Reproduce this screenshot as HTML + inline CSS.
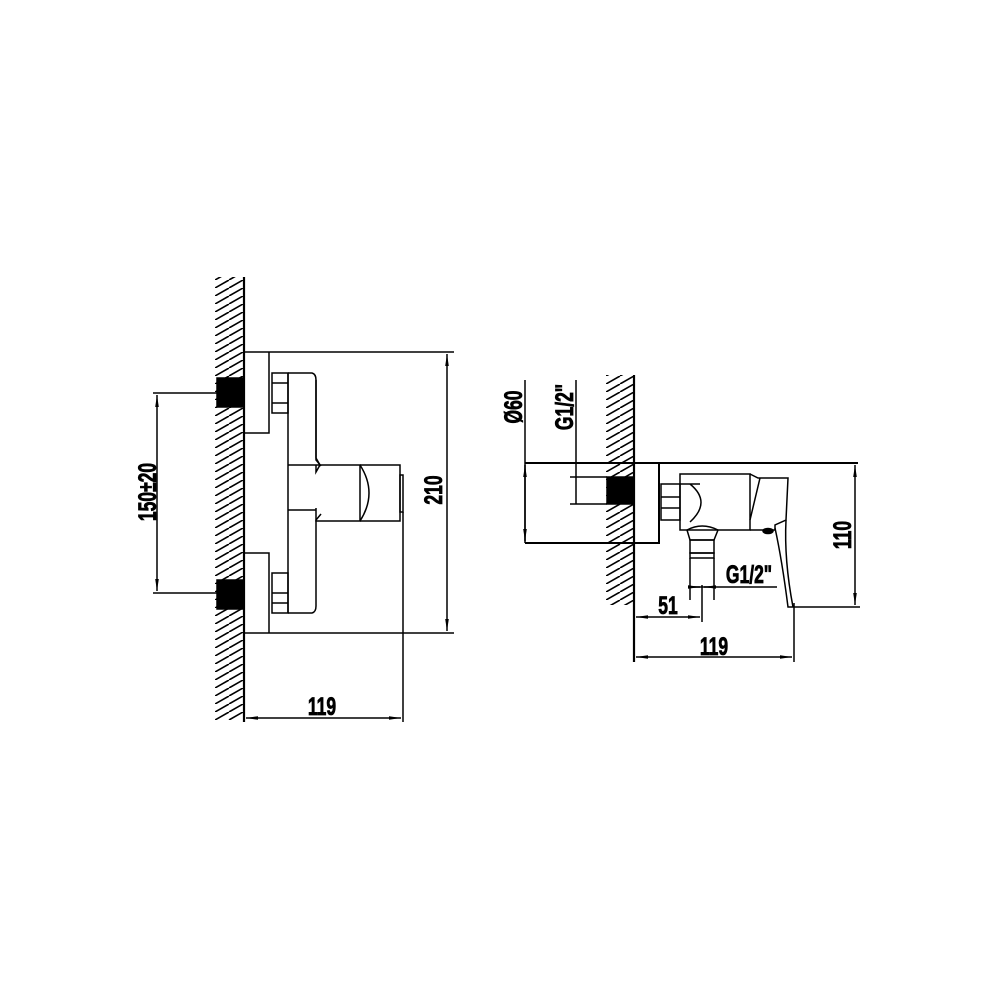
<!DOCTYPE html>
<html><head><meta charset="utf-8"><style>
html,body{margin:0;padding:0;background:#fff}
svg{display:block}
text{font-family:"Liberation Sans",sans-serif;font-weight:bold;font-size:25px;fill:#000;stroke:#000;stroke-width:0.8}
</style></head><body>
<svg width="1000" height="1000" viewBox="0 0 1000 1000" xmlns="http://www.w3.org/2000/svg">
<defs>
<pattern id="h1" patternUnits="userSpaceOnUse" x="215" y="0" width="28" height="8">
<path d="M0 8L14 0M14 8L28 0" stroke="#000" stroke-width="1.6"/>
</pattern>
<pattern id="h2" patternUnits="userSpaceOnUse" x="606" y="0" width="28" height="8">
<path d="M0 8L14 0M14 8L28 0" stroke="#000" stroke-width="1.6"/>
</pattern>
<marker id="a" viewBox="0 0 10 10" refX="10" refY="5" markerWidth="8" markerHeight="8" orient="auto-start-reverse"><path d="M0 3.5L10 5L0 6.5z" fill="#000"/></marker>
</defs>
<g fill="none" stroke="#000" stroke-width="1.5">
<rect x="215" y="277" width="28" height="443" fill="url(#h1)" stroke="none"/>
<line x1="244" y1="277" x2="244" y2="722" stroke-width="2.2"/>
<rect x="217" y="378" width="27" height="29" fill="#000"/>
<rect x="217" y="580" width="27" height="29" fill="#000"/>
<line x1="244" y1="352" x2="454" y2="352"/>
<line x1="244" y1="633" x2="454" y2="633"/>
<path d="M244 433H269V352M244 553H269V633"/>
<rect x="272" y="373" width="16" height="40"/>
<path d="M272 383H288M272 403H288M272 593H288M272 603H288"/>
<rect x="272" y="573" width="16" height="40"/>
<path d="M288 373H312Q316 374 316 380V458L320 465L316 472V465"/>
<path d="M288 373V613M288 465H316M316 380V460L321 466M288 510H316"/>
<path d="M288 613H312Q316 612 316 606V520L321 514"/>
<path d="M316 465H360V521H316V508"/>
<path d="M360 465H400V521H360"/>
<path d="M360 465Q378 493 360 521"/>
<rect x="400" y="475" width="3" height="37"/>
<line x1="403" y1="512" x2="403" y2="722"/>
<line x1="447" y1="354" x2="447" y2="631" marker-start="url(#a)" marker-end="url(#a)"/>
<line x1="153" y1="393" x2="217" y2="393"/>
<line x1="153" y1="593" x2="217" y2="593"/>
<line x1="157" y1="395" x2="157" y2="591" marker-start="url(#a)" marker-end="url(#a)"/>
<line x1="246" y1="718" x2="401" y2="718" marker-start="url(#a)" marker-end="url(#a)"/>

<rect x="606" y="375" width="28" height="230" fill="url(#h2)" stroke="none"/>
<line x1="634" y1="375" x2="634" y2="662" stroke-width="2.2"/>
<rect x="607" y="477" width="27" height="27" fill="#000"/>
<line x1="525" y1="463" x2="858" y2="463" stroke-width="2"/>
<path d="M525 543H659V463" stroke-width="2"/>
<line x1="525" y1="380" x2="525" y2="543"/>
<line x1="525" y1="465" x2="525" y2="541" marker-start="url(#a)" marker-end="url(#a)"/>
<line x1="576" y1="380" x2="576" y2="504"/>
<line x1="570" y1="477" x2="607" y2="477"/>
<line x1="570" y1="504" x2="607" y2="504"/>
<rect x="661" y="484" width="19" height="36"/>
<path d="M661 497H680M661 508H680"/>
<rect x="680" y="474" width="70" height="56"/>
<path d="M690 484Q712 502 690 522M680 484H700"/>
<path d="M750 474L758 478H788L786 520L775 525V530L760 530M750 530H760"/>
<path d="M760 478L750 520"/>
<path d="M786 520Q784 560 793 607M775 528Q782 560 788 607H793"/>
<ellipse cx="768" cy="531" rx="5" ry="2.5" fill="#000"/>
<path d="M687 530Q702 522 718 530L714 540H690Z"/>
<rect x="690" y="540" width="24" height="13"/>
<rect x="690" y="553" width="24" height="5"/>
<path d="M690 558V600M714 558V600"/>
<line x1="702" y1="585" x2="702" y2="622"/>
<line x1="688" y1="587" x2="777" y2="587"/>
<line x1="690" y1="587" x2="700" y2="587" marker-end="url(#a)"/>
<line x1="714" y1="587" x2="704" y2="587" marker-end="url(#a)"/>
<line x1="636" y1="617" x2="700" y2="617" marker-start="url(#a)" marker-end="url(#a)"/>
<line x1="794" y1="603" x2="794" y2="662"/>
<line x1="636" y1="657" x2="792" y2="657" marker-start="url(#a)" marker-end="url(#a)"/>
<line x1="793" y1="607" x2="860" y2="607"/>
<line x1="855" y1="465" x2="855" y2="605" marker-start="url(#a)" marker-end="url(#a)"/>
</g>
<g>
<text transform="translate(156,492) rotate(-90) scale(0.7,1)" text-anchor="middle">150±20</text>
<text transform="translate(442,490) rotate(-90) scale(0.7,1)" text-anchor="middle">210</text>
<text transform="translate(322,715) scale(0.7,1)" text-anchor="middle">119</text>
<text transform="translate(522,407) rotate(-90) scale(0.7,1)" text-anchor="middle">Ø60</text>
<text transform="translate(573,407) rotate(-90) scale(0.7,1)" text-anchor="middle">G1/2"</text>
<text transform="translate(749,583) scale(0.7,1)" text-anchor="middle">G1/2"</text>
<text transform="translate(668,614) scale(0.7,1)" text-anchor="middle">51</text>
<text transform="translate(714,655) scale(0.7,1)" text-anchor="middle">119</text>
<text transform="translate(851,535) rotate(-90) scale(0.7,1)" text-anchor="middle">110</text>
</g>
</svg>
</body></html>
